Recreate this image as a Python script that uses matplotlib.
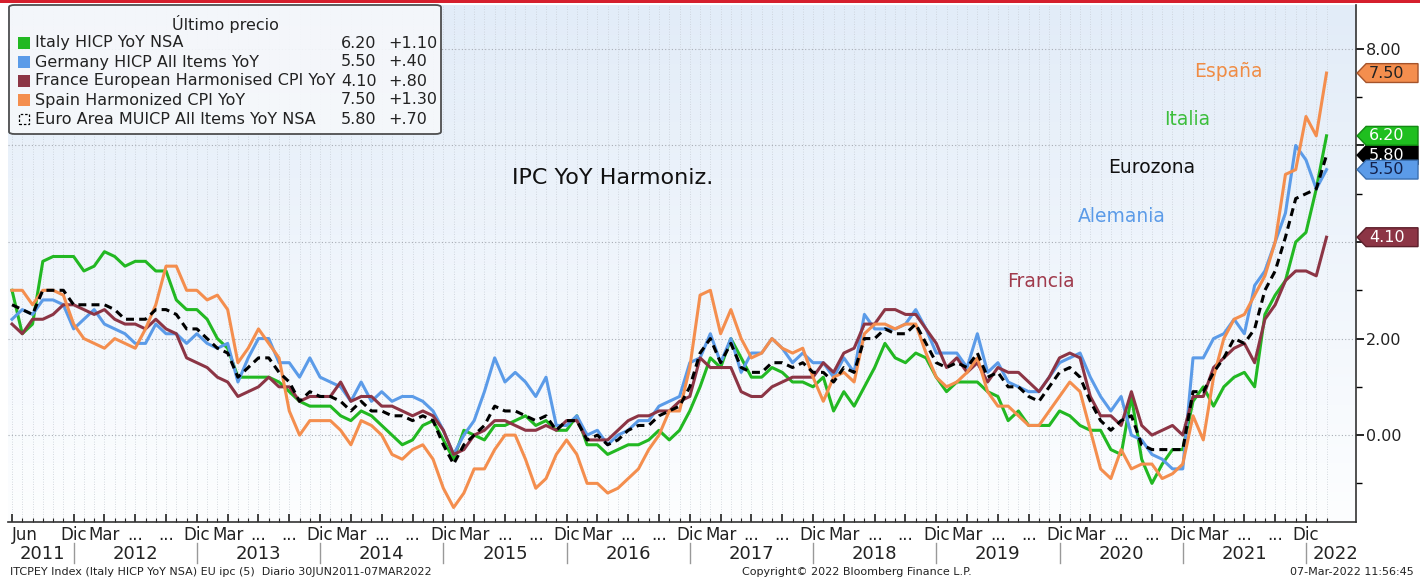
import numpy as np
import matplotlib.pyplot as plt
import matplotlib.transforms as mtransforms
from matplotlib.colors import LinearSegmentedColormap
from matplotlib.patches import FancyBboxPatch, Rectangle, Polygon

# monthly YoY values, Jun 2011 .. Feb 2022
italy = [3.0, 2.1, 2.3, 3.6, 3.7, 3.7, 3.7,
         3.4, 3.5, 3.8, 3.7, 3.5, 3.6, 3.6, 3.4, 3.4, 2.8, 2.6, 2.6,
         2.4, 2.0, 1.8, 1.2, 1.2, 1.2, 1.2, 1.1, 0.9, 0.7, 0.6, 0.6,
         0.6, 0.4, 0.3, 0.5, 0.4, 0.2, 0.0, -0.2, -0.1, 0.2, 0.3, -0.1,
         -0.5, 0.1, 0.0, -0.1, 0.2, 0.2, 0.3, 0.4, 0.2, 0.3, 0.1, 0.1,
         0.4, -0.2, -0.2, -0.4, -0.3, -0.2, -0.2, -0.1, 0.1, -0.1, 0.1, 0.5,
         1.0, 1.6, 1.4, 2.0, 1.6, 1.2, 1.2, 1.4, 1.3, 1.1, 1.1, 1.0,
         1.2, 0.5, 0.9, 0.6, 1.0, 1.4, 1.9, 1.6, 1.5, 1.7, 1.6, 1.2,
         0.9, 1.1, 1.1, 1.1, 0.9, 0.8, 0.3, 0.5, 0.2, 0.2, 0.2, 0.5,
         0.4, 0.2, 0.1, 0.1, -0.3, -0.4, 0.8, -0.5, -1.0, -0.6, -0.3, -0.3,
         0.7, 1.0, 0.6, 1.0, 1.2, 1.3, 1.0, 2.5, 2.9, 3.2, 4.0, 4.2,
         5.1, 6.2]
germany = [2.4, 2.6, 2.5, 2.8, 2.8, 2.7, 2.2,
           2.4, 2.6, 2.3, 2.2, 2.1, 1.9, 1.9, 2.3, 2.1, 2.1, 1.9, 2.1,
           1.9, 1.8, 1.9, 1.1, 1.6, 2.0, 2.0, 1.5, 1.5, 1.2, 1.6, 1.2,
           1.1, 1.0, 0.7, 1.1, 0.7, 0.9, 0.7, 0.8, 0.8, 0.7, 0.5, 0.1,
           -0.4, 0.0, 0.3, 0.9, 1.6, 1.1, 1.3, 1.1, 0.8, 1.2, 0.2, 0.2,
           0.4, 0.0, 0.1, -0.2, 0.0, 0.1, 0.3, 0.3, 0.6, 0.7, 0.8, 1.5,
           1.6, 2.1, 1.5, 2.0, 1.3, 1.7, 1.7, 2.0, 1.8, 1.5, 1.7, 1.5,
           1.5, 1.2, 1.6, 1.3, 2.5, 2.2, 2.2, 2.2, 2.3, 2.6, 2.2, 1.7,
           1.7, 1.7, 1.4, 2.1, 1.3, 1.5, 1.1, 1.0, 0.9, 0.9, 1.2, 1.5,
           1.6, 1.7, 1.2, 0.8, 0.5, 0.8, 0.0, -0.1, -0.4, -0.5, -0.7, -0.7,
           1.6, 1.6, 2.0, 2.1, 2.4, 2.1, 3.1, 3.4, 4.0, 4.6, 6.0, 5.7,
           5.1, 5.5]
france = [2.3, 2.1, 2.4, 2.4, 2.5, 2.7, 2.7,
          2.6, 2.5, 2.6, 2.4, 2.3, 2.3, 2.2, 2.4, 2.2, 2.1, 1.6, 1.5,
          1.4, 1.2, 1.1, 0.8, 0.9, 1.0, 1.2, 1.0, 1.0, 0.7, 0.8, 0.8,
          0.8, 1.1, 0.7, 0.8, 0.8, 0.6, 0.6, 0.5, 0.4, 0.5, 0.4, 0.1,
          -0.4, -0.3, 0.0, 0.1, 0.3, 0.3, 0.2, 0.1, 0.1, 0.2, 0.1, 0.3,
          0.3, -0.1, -0.1, -0.1, 0.1, 0.3, 0.4, 0.4, 0.5, 0.5, 0.7, 0.8,
          1.6, 1.4, 1.4, 1.4, 0.9, 0.8, 0.8, 1.0, 1.1, 1.2, 1.2, 1.2,
          1.5, 1.3, 1.7, 1.8, 2.3, 2.3, 2.6, 2.6, 2.5, 2.5, 2.2, 1.9,
          1.4, 1.6, 1.3, 1.5, 1.1, 1.4, 1.3, 1.3, 1.1, 0.9, 1.2, 1.6,
          1.7, 1.6, 0.8, 0.4, 0.4, 0.2, 0.9, 0.2, 0.0, 0.1, 0.2, 0.0,
          0.8, 0.8, 1.4, 1.6, 1.8, 1.9, 1.5, 2.4, 2.7, 3.2, 3.4, 3.4,
          3.3, 4.1]
spain = [3.0, 3.0, 2.7, 3.0, 3.0, 2.9, 2.3,
         2.0, 1.9, 1.8, 2.0, 1.9, 1.8, 2.2, 2.7, 3.5, 3.5, 3.0, 3.0,
         2.8, 2.9, 2.6, 1.5, 1.8, 2.2, 1.9, 1.6, 0.5, 0.0, 0.3, 0.3,
         0.3, 0.1, -0.2, 0.3, 0.2, 0.0, -0.4, -0.5, -0.3, -0.2, -0.5, -1.1,
         -1.5, -1.2, -0.7, -0.7, -0.3, 0.0, 0.0, -0.5, -1.1, -0.9, -0.4, -0.1,
         -0.4, -1.0, -1.0, -1.2, -1.1, -0.9, -0.7, -0.3, 0.0, 0.5, 0.5, 1.4,
         2.9, 3.0, 2.1, 2.6, 2.0, 1.6, 1.7, 2.0, 1.8, 1.7, 1.8, 1.2,
         0.7, 1.2, 1.3, 1.1, 2.1, 2.3, 2.3, 2.2, 2.3, 2.3, 1.7, 1.2,
         1.0, 1.1, 1.3, 1.6, 0.9, 0.6, 0.6, 0.4, 0.2, 0.2, 0.5, 0.8,
         1.1, 0.9, 0.1, -0.7, -0.9, -0.3, -0.7, -0.6, -0.6, -0.9, -0.8, -0.6,
         0.4, -0.1, 1.2, 2.0, 2.4, 2.5, 2.9, 3.3, 4.0, 5.4, 5.5, 6.6,
         6.2, 7.5]
euro = [2.7, 2.6, 2.5, 3.0, 3.0, 3.0, 2.7,
        2.7, 2.7, 2.7, 2.6, 2.4, 2.4, 2.4, 2.6, 2.6, 2.5, 2.2, 2.2,
        2.0, 1.8, 1.7, 1.2, 1.4, 1.6, 1.6, 1.3, 1.1, 0.7, 0.9, 0.8,
        0.8, 0.7, 0.5, 0.7, 0.5, 0.5, 0.4, 0.4, 0.3, 0.4, 0.3, -0.2,
        -0.6, -0.2, 0.0, 0.2, 0.6, 0.5, 0.5, 0.4, 0.3, 0.4, 0.1, 0.3,
        0.3, -0.1, 0.0, -0.2, -0.1, 0.1, 0.2, 0.2, 0.4, 0.5, 0.6, 1.0,
        1.7, 2.0, 1.5, 1.9, 1.4, 1.3, 1.3, 1.5, 1.5, 1.4, 1.5, 1.3,
        1.3, 1.1, 1.4, 1.3, 2.0, 2.0, 2.2, 2.1, 2.1, 2.3, 1.9, 1.5,
        1.4, 1.5, 1.4, 1.7, 1.2, 1.3, 1.0, 1.0, 0.8, 0.7, 1.0, 1.3,
        1.4, 1.2, 0.7, 0.3, 0.1, 0.3, 0.4, -0.2, -0.3, -0.3, -0.3, -0.3,
        0.9, 0.9, 1.3, 1.6, 2.0, 1.9, 2.2, 3.0, 3.4, 4.1, 4.9, 5.0,
        5.1, 5.8]

names = ["Italy HICP YoY NSA", "Germany HICP All Items YoY",
         "France European Harmonised CPI YoY", "Spain Harmonized CPI YoY",
         "Euro Area MUICP All Items YoY NSA"]
last = ["6.20", "5.50", "4.10", "7.50", "5.80"]
change = ["+1.10", "+.40", "+.80", "+1.30", "+.70"]
quarter_labels = ["Jun"] + ["Dic", "Mar", "...", "..."] * 10 + ["Dic"]
years = [str(y) for y in range(2011, 2023)]

c_it, c_de, c_fr, c_es = "#22b822", "#5b9be8", "#8c3545", "#f48e4e"
narrow = ["Liberation Sans Narrow", "DejaVu Sans"]

fig = plt.figure(figsize=(14.2, 5.81), dpi=100)
ax = fig.add_axes([8 / 1420, 59 / 581, 1348 / 1420, 517 / 581])
xl = (-0.39, 130.87)
yl = (-1.80, 8.91)

cmap = LinearSegmentedColormap.from_list("bg", ["#fdfeff", "#e2ecf8"])
ax.imshow(np.linspace(0, 1, 200).reshape(-1, 1), cmap=cmap, origin="lower",
          extent=[xl[0], xl[1], yl[0], yl[1]], aspect="auto", zorder=0)

months = np.arange(len(italy))
for i in months:
    ax.axvline(i, color="#c8ced6", lw=0.6, ls=(0, (1, 2)), zorder=1)
for v in [0, 2, 4, 6, 8]:
    ax.axhline(v, color="#a8adb5", lw=0.8, ls=(0, (1, 2)), zorder=1)

ax.plot(months, italy, color=c_it, lw=2.2, zorder=3)
ax.plot(months, germany, color=c_de, lw=2.2, zorder=3)
ax.plot(months, france, color=c_fr, lw=2.2, zorder=3)
ax.plot(months, spain, color=c_es, lw=2.2, zorder=3)
ax.plot(months, euro, color="black", lw=2.2, dashes=(2.6, 1.7), zorder=4)

ax.set_xlim(xl)
ax.set_ylim(yl)

for s in ["left", "top"]:
    ax.spines[s].set_visible(False)
for s in ["bottom", "right"]:
    ax.spines[s].set_color("#333333")
    ax.spines[s].set_linewidth(1.2)

# x axis: quarterly labels, monthly ticks
qpos = [0] + [6 + 12 * k + 3 * j for k in range(10) for j in range(4)] + [126]
ax.set_xticks(qpos)
ax.set_xticklabels(quarter_labels, family=narrow, fontsize=12)
ax.set_xticks(months, minor=True)
ax.tick_params(axis="x", which="major", direction="in", length=6, width=1.2,
               pad=3, colors="#222222")
ax.tick_params(axis="x", which="minor", direction="in", length=3, width=0.8,
               colors="#222222")
ax.get_xticklabels()[0].set_ha("left")

trans = mtransforms.blended_transform_factory(ax.transData, ax.transAxes)
ax.text(3, -0.062, years[0], transform=trans, ha="center", va="center",
        family=narrow, fontsize=13, color="#222222")
for k in range(1, 11):
    ax.text(12 * k, -0.062, years[k], transform=trans, ha="center",
            va="center", family=narrow, fontsize=13, color="#222222")
ax.text(126.6, -0.062, years[-1], transform=trans, ha="left", va="center",
        family=narrow, fontsize=13, color="#222222")
for k in range(11):
    ax.plot([6 + 12 * k] * 2, [-0.040, -0.080], transform=trans,
            color="#999999", lw=1, clip_on=False)

# y axis on the right
ax.yaxis.tick_right()
ax.set_yticks([0, 2, 4, 6, 8])
ax.set_yticklabels(["0.00", "2.00", "", "", "8.00"], fontsize=11.5,
                   color="#222222")
ax.set_yticks(np.arange(-1, 9, 2), minor=True)
ax.tick_params(axis="y", which="major", direction="out", length=6,
               width=1.2, pad=1)
ax.tick_params(axis="y", which="minor", direction="out", length=4, width=1)

# last-value tags
ytrans = mtransforms.blended_transform_factory(ax.transAxes, ax.transData)
tags = [(7.50, c_es, "#a5532a", "#222222"),
        (5.80, "black", "black", "white"),
        (6.20, "#1fbf1f", "#138a13", "white"),
        (5.50, c_de, "#3a6fb0", "#13204a"),
        (4.10, c_fr, "#5c1f2b", "white")]
h = 0.195
for val, fc, ec, tc in tags:
    pts = [(1.0008, val), (1.0075, val + h), (1.046, val + h),
           (1.046, val - h), (1.0075, val - h)]
    ax.add_patch(Polygon(pts, closed=True, transform=ytrans, facecolor=fc,
                         edgecolor=ec, lw=1, clip_on=False, zorder=6))
    ax.text(1.0095, val, "%.2f" % val, transform=ytrans, ha="left",
            va="center", fontsize=11.5, color=tc, zorder=7, clip_on=False)

# annotations inside the plot
ax.text(58.5, 5.33, "IPC YoY Harmoniz.", fontsize=16, color="#111111",
        ha="center", va="center", zorder=5)
ax.text(118.4, 7.54, "España", fontsize=13.5, color="#f08c44",
        ha="center", va="center", zorder=5)
ax.text(114.4, 6.53, "Italia", fontsize=13.5, color="#3cbe3c",
        ha="center", va="center", zorder=5)
ax.text(111.0, 5.55, "Eurozona", fontsize=13.5, color="#111111",
        ha="center", va="center", zorder=5)
ax.text(108.1, 4.52, "Alemania", fontsize=13.5, color="#5b9be8",
        ha="center", va="center", zorder=5)
ax.text(100.2, 3.19, "Francia", fontsize=13.5, color="#a03a4c",
        ha="center", va="center", zorder=5)

# legend box (pixel layout)
W, H = 1420.0, 581.0
def fx(px):
    return px / W
def fy(py):
    return 1 - py / H

fig.patches.append(FancyBboxPatch((fx(9), fy(134)), fx(432), 129 / H,
                                  boxstyle="round,pad=0,rounding_size=0.004",
                                  transform=fig.transFigure,
                                  facecolor="#f6f8fb", alpha=0.9,
                                  edgecolor="#3c3c3c", lw=1.3, zorder=2))
fig.text(fx(225), fy(24), "Último precio", ha="center", va="center",
         fontsize=11.5, color="#222222", zorder=4)
colors = [c_it, c_de, c_fr, c_es, None]
for i, name in enumerate(names):
    yy = 43 + 19 * i
    if colors[i] is not None:
        fig.patches.append(Rectangle((fx(18), fy(yy + 6)), fx(12), 12 / H,
                                     transform=fig.transFigure,
                                     facecolor=colors[i], lw=0, zorder=3))
    else:
        fig.patches.append(Rectangle((fx(19), fy(yy + 5)), fx(10), 10 / H,
                                     transform=fig.transFigure,
                                     facecolor="none", edgecolor="black",
                                     lw=0.9, ls=(0, (2, 1.5)), zorder=3))
    fig.text(fx(35), fy(yy), name, ha="left", va="center", fontsize=11.5,
             color="#222222", zorder=4)
    fig.text(fx(341), fy(yy), last[i], ha="left", va="center", fontsize=11.5,
             color="#222222", zorder=4)
    fig.text(fx(388), fy(yy), change[i], ha="left", va="center",
             fontsize=11.5, color="#222222", zorder=4)

# top red band and footer
fig.patches.append(Rectangle((0, fy(3)), 1, 3 / H, transform=fig.transFigure,
                             facecolor="#d51f2d", lw=0, zorder=5))
fig.text(fx(10), fy(572),
         "ITCPEY Index (Italy HICP YoY NSA) EU ipc (5)  Diario 30JUN2011-07MAR2022",
         ha="left", va="center", family=narrow, fontsize=8, color="#222222")
fig.text(fx(857), fy(572), "Copyright\u00a9 2022 Bloomberg Finance L.P.",
         ha="center", va="center", family=narrow, fontsize=8, color="#222222")
fig.text(fx(1414), fy(572), "07-Mar-2022 11:56:45", ha="right", va="center",
         family=narrow, fontsize=8, color="#222222")

fig.savefig("out.png", dpi=100)
